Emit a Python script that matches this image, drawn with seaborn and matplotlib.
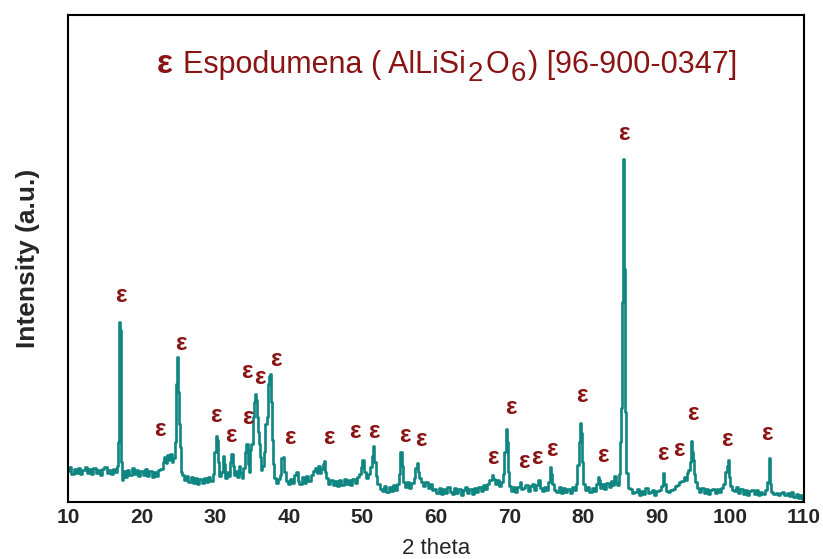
import matplotlib
matplotlib.use("Agg")
import matplotlib.pyplot as plt
import seaborn as sns
import pandas as pd

# XRD scan of the spodumene sample, (2 theta, counts) pairs in four ranges
scan_10_30 = [
    (10.0, 31), (10.3, 35), (10.6, 28), (10.9, 33), (11.2, 29), (11.5, 34), (11.8, 28),
    (12.1, 32), (12.4, 35), (12.7, 29), (13.0, 33), (13.3, 28), (13.6, 34), (13.9, 29),
    (14.2, 32), (14.5, 27), (14.8, 33), (15.1, 35), (15.4, 29), (15.7, 32), (16.0, 28),
    (16.3, 33), (16.6, 30), (16.8, 36), (16.9, 60), (17.0, 180), (17.1, 172), (17.2, 150),
    (17.3, 40), (17.45, 22), (17.6, 31), (17.9, 25), (18.2, 32), (18.5, 27), (18.8, 34),
    (19.1, 28), (19.4, 32), (19.7, 26), (20.0, 31), (20.3, 27), (20.6, 33), (20.9, 26),
    (21.2, 31), (21.5, 25), (21.8, 30), (22.1, 26), (22.4, 32), (22.7, 33), (23.0, 40),
    (23.2, 45), (23.4, 39), (23.6, 47), (23.8, 42), (24.0, 48), (24.2, 40), (24.4, 44),
    (24.55, 60), (24.7, 118), (24.85, 145), (25.0, 110), (25.1, 78), (25.25, 55), (25.4, 30),
    (25.6, 27), (25.9, 22), (26.2, 26), (26.5, 20), (26.8, 25), (27.1, 19), (27.4, 24),
    (27.7, 18), (28.0, 23), (28.3, 19), (28.6, 24), (28.9, 20), (29.2, 25), (29.5, 21),
    (29.8, 28),
]
scan_30_55 = [
    (30.0, 50), (30.15, 66), (30.3, 62), (30.45, 40), (30.7, 26), (30.9, 30), (31.1, 46),
    (31.25, 38), (31.45, 24), (31.7, 30), (31.9, 26), (32.1, 40), (32.3, 48), (32.5, 36),
    (32.7, 27), (32.9, 31), (33.1, 25), (33.3, 36), (33.5, 29), (33.7, 24), (33.9, 34),
    (34.1, 50), (34.3, 58), (34.5, 38), (34.7, 30), (34.85, 52), (35.0, 58), (35.15, 85),
    (35.3, 100), (35.45, 108), (35.6, 102), (35.75, 85), (35.9, 70), (36.05, 58), (36.2, 45),
    (36.35, 32), (36.5, 36), (36.7, 50), (36.9, 78), (37.05, 85), (37.2, 118), (37.35, 126),
    (37.5, 128), (37.65, 100), (37.8, 62), (37.95, 38), (38.1, 24), (38.4, 19), (38.7, 23),
    (38.9, 27), (39.1, 44), (39.3, 45), (39.45, 30), (39.7, 21), (40.0, 18), (40.3, 23),
    (40.6, 19), (40.9, 27), (41.1, 30), (41.3, 21), (41.6, 18), (41.9, 25), (42.2, 19),
    (42.5, 26), (42.8, 21), (43.1, 27), (43.4, 31), (43.7, 34), (43.9, 29), (44.1, 36),
    (44.3, 29), (44.5, 33), (44.7, 38), (44.85, 41), (45.0, 30), (45.2, 24), (45.5, 18),
    (45.8, 22), (46.1, 17), (46.4, 21), (46.7, 16), (47.0, 22), (47.3, 17), (47.6, 23),
    (47.9, 18), (48.2, 22), (48.5, 17), (48.8, 23), (49.1, 19), (49.4, 25), (49.7, 28),
    (49.9, 35), (50.1, 42), (50.3, 30), (50.6, 24), (50.9, 28), (51.2, 35), (51.4, 46),
    (51.55, 56), (51.7, 40), (51.9, 26), (52.2, 18), (52.5, 13), (52.8, 11), (53.1, 16),
    (53.4, 10), (53.7, 15), (54.0, 11), (54.3, 17), (54.6, 12), (54.9, 18),
]
scan_55_80 = [
    (55.1, 28), (55.25, 50), (55.4, 36), (55.6, 20), (55.9, 15), (56.2, 20), (56.5, 14),
    (56.8, 19), (57.1, 24), (57.3, 34), (57.45, 39), (57.6, 30), (57.8, 24), (58.1, 20),
    (58.4, 16), (58.7, 20), (59.0, 14), (59.3, 18), (59.6, 12), (59.9, 13), (60.2, 9),
    (60.5, 14), (60.8, 8), (61.1, 13), (61.4, 9), (61.7, 15), (62.0, 10), (62.3, 8),
    (62.6, 14), (62.9, 9), (63.2, 13), (63.5, 7), (63.8, 12), (64.1, 15), (64.4, 9),
    (64.7, 13), (65.0, 8), (65.3, 14), (65.6, 10), (65.9, 15), (66.2, 11), (66.5, 17),
    (66.8, 13), (67.1, 18), (67.4, 22), (67.7, 27), (67.9, 23), (68.1, 18), (68.4, 22),
    (68.7, 16), (69.0, 20), (69.2, 28), (69.4, 50), (69.55, 73), (69.7, 60), (69.85, 30),
    (70.0, 16), (70.3, 11), (70.6, 15), (70.9, 10), (71.2, 15), (71.5, 20), (71.7, 13),
    (72.0, 14), (72.3, 17), (72.6, 11), (72.9, 16), (73.2, 18), (73.5, 12), (73.8, 17),
    (74.0, 22), (74.2, 14), (74.5, 11), (74.8, 15), (75.1, 12), (75.4, 20), (75.6, 35),
    (75.75, 28), (75.9, 18), (76.2, 12), (76.5, 10), (76.8, 15), (77.1, 9), (77.4, 14),
    (77.7, 10), (78.0, 13), (78.3, 9), (78.6, 15), (78.9, 12), (79.1, 18), (79.3, 37),
    (79.5, 60), (79.65, 79), (79.8, 69), (79.95, 40),
]
scan_80_110 = [
    (80.1, 18), (80.4, 12), (80.7, 15), (81.0, 10), (81.3, 14), (81.6, 11), (81.9, 18),
    (82.05, 25), (82.2, 22), (82.4, 14), (82.7, 18), (83.0, 13), (83.3, 19), (83.6, 15),
    (83.9, 21), (84.1, 17), (84.3, 26), (84.5, 19), (84.7, 17), (84.9, 28), (85.1, 60),
    (85.25, 94), (85.4, 200), (85.5, 343), (85.65, 233), (85.8, 90), (85.95, 29), (86.2, 14),
    (86.5, 13), (86.8, 9), (87.1, 10), (87.4, 13), (87.7, 7), (88.0, 11), (88.3, 8),
    (88.6, 14), (88.9, 9), (89.2, 10), (89.5, 12), (89.8, 7), (90.1, 11), (90.4, 12),
    (90.7, 16), (90.9, 29), (91.1, 18), (91.4, 11), (91.7, 10), (92.0, 12), (92.3, 13),
    (92.6, 16), (92.9, 17), (93.2, 20), (93.5, 21), (93.8, 25), (94.0, 22), (94.2, 29),
    (94.4, 32), (94.55, 40), (94.7, 61), (94.85, 50), (95.0, 42), (95.15, 28), (95.35, 20),
    (95.6, 14), (95.9, 10), (96.2, 14), (96.5, 9), (96.8, 13), (97.1, 8), (97.4, 12),
    (97.7, 13), (98.0, 9), (98.3, 13), (98.6, 10), (98.9, 14), (99.2, 18), (99.4, 30),
    (99.55, 36), (99.7, 42), (99.85, 25), (100.0, 16), (100.3, 12), (100.6, 11), (100.9, 15),
    (101.2, 9), (101.5, 13), (101.8, 8), (102.1, 12), (102.4, 7), (102.7, 11), (103.0, 12),
    (103.3, 8), (103.6, 12), (103.9, 7), (104.2, 10), (104.5, 8), (104.8, 12), (105.1, 20),
    (105.3, 44), (105.45, 18), (105.7, 10), (106.0, 8), (106.3, 9), (106.6, 7), (106.9, 9),
    (107.2, 10), (107.5, 7), (107.8, 9), (108.1, 6), (108.4, 10), (108.7, 5), (109.0, 8),
    (109.3, 4), (109.6, 7), (109.9, 3),
]

# Spodumene reflections: marker position (2 theta) and height of the epsilon label
peak_2theta = [17.2, 22.5, 25.4, 30.1, 32.1, 34.3, 34.5, 36.1, 38.3, 40.2,
               45.5, 49.0, 51.6, 55.8, 58.0, 67.7, 70.2, 72.0, 73.7, 75.8,
               79.8, 82.7, 85.5, 90.8, 93.0, 94.9, 99.5, 105.0]
peak_label_y = [206, 72, 159, 87, 67, 130, 84, 124, 142, 65,
                64, 70, 70, 67, 62, 45, 94, 40, 44, 52,
                107, 47, 368, 49, 52, 89, 63, 69]

x_ticks = [10, 20, 30, 40, 50, 60, 70, 80, 90, 100, 110]

# Legend line: phase name, formula parts and reference card number
title_parts = [("Espodumena ( AlLiSi", False), ("2", True), ("O", False),
               ("6", True), (") [96-900-0347]", False)]

scan = pd.DataFrame(scan_10_30 + scan_30_55 + scan_55_80 + scan_80_110,
                    columns=["two_theta", "intensity"])

sns.set_style("white")
plt.rcParams["font.family"] = ["Liberation Sans", "DejaVu Sans"]

W, H = 823, 559
fig = plt.figure(figsize=(W / 100, H / 100), dpi=100)
ax = fig.add_axes([68 / W, 1 - 502 / H, (804 - 68) / W, (502 - 15) / H])

sns.lineplot(data=scan, x="two_theta", y="intensity", ax=ax,
             color="#0f8681", linewidth=1.9, estimator=None, sort=False,
             drawstyle="steps-mid")

label_red = "#8a1414"
for px, py in zip(peak_2theta, peak_label_y):
    ax.text(px, py, "ε", color=label_red, fontsize=17.5, fontweight="bold",
            ha="center", va="center")

ax.set_xlim(10, 110)
ax.set_ylim(0, 487)
ax.set_xticks(x_ticks)
ax.set_xticklabels([str(t) for t in x_ticks], fontsize=15, fontweight="bold")
ax.set_yticks([])
ax.tick_params(axis="x", length=0, pad=4)
ax.set_xlabel("2 theta", fontsize=16)
ax.xaxis.set_label_coords(0.5, -(538 - 502) / 487)
ax.xaxis.label.set_va("top")
ax.set_ylabel("Intensity (a.u.)", fontsize=19, fontweight="bold")
ax.yaxis.set_label_coords(-(68 - 40) / 736, 0.5)
for side in ["left", "bottom", "top", "right"]:
    ax.spines[side].set_color("black")
    ax.spines[side].set_linewidth(1.5)

# Legend line, laid out piece by piece so the formula subscripts sit low
renderer = fig.canvas.get_renderer()
base_y = 1 - 73 / H
fig.text(157 / W, base_y, "ε", color=label_red, fontsize=24,
         fontweight="bold", ha="left", va="baseline")
x_px = 183
for text, is_sub in title_parts:
    t = fig.text(x_px / W, base_y - (8 / H if is_sub else 0), text,
                 color=label_red, fontsize=20 if is_sub else 22,
                 ha="left", va="baseline")
    x_px = t.get_window_extent(renderer).x1 + 2

fig.savefig("out.png", dpi=100)
